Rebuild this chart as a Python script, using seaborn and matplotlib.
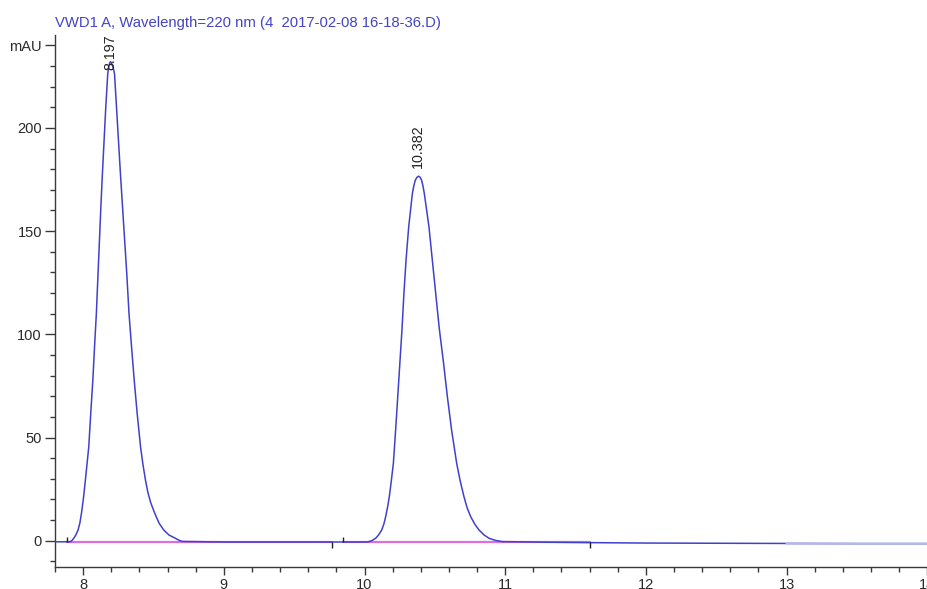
import matplotlib
matplotlib.use("Agg")
import matplotlib.pyplot as plt
from matplotlib.ticker import MultipleLocator
import pandas as pd
import seaborn as sns

# Detector trace (retention time in min, absorbance in mAU)
time_min = [7.80, 7.886, 7.910, 7.920, 7.933, 7.948, 7.964, 7.977, 7.988, 8.002,
            8.016, 8.028, 8.040, 8.054, 8.069, 8.081, 8.094, 8.106, 8.116, 8.126,
            8.137, 8.149, 8.161, 8.175, 8.180, 8.185, 8.190, 8.194, 8.199, 8.205,
            8.214, 8.223, 8.237, 8.251, 8.265, 8.280, 8.295, 8.310, 8.326, 8.344,
            8.363, 8.384, 8.408, 8.425, 8.443, 8.460, 8.480, 8.509, 8.540, 8.573,
            8.610, 8.656, 8.680, 8.704, 9.00, 9.50, 10.020, 10.050, 10.079, 10.100,
            10.122, 10.137, 10.150, 10.163, 10.176, 10.190, 10.205, 10.221, 10.236,
            10.251, 10.266, 10.280, 10.295, 10.314, 10.340, 10.350, 10.360, 10.372,
            10.383, 10.394, 10.405, 10.415, 10.425, 10.458, 10.482, 10.506, 10.531,
            10.562, 10.589, 10.619, 10.655, 10.680, 10.707, 10.730, 10.755, 10.785,
            10.814, 10.850, 10.885, 10.930, 10.980, 11.30, 11.60, 12.00, 12.50,
            13.00, 13.50, 14.00]
signal_mau = [-0.5, -0.5, -0.4, 0.1, 1.2, 2.8, 5.2, 8.7, 13.3, 20.5,
              29.4, 37.5, 45.5, 61.7, 77.8, 94.0, 110.1, 129.5, 145.6, 161.7,
              177.9, 194.0, 210.2, 226.3, 228.8, 230.5, 231.6, 232.0, 231.8, 230.8,
              229.0, 226.3, 210.2, 194.0, 177.9, 161.7, 145.6, 129.5, 110.1, 94.0,
              77.8, 61.7, 45.5, 37.0, 29.4, 23.5, 18.5, 13.3, 8.5, 5.2,
              2.8, 1.2, 0.3, -0.3, -0.6, -0.6, -0.6, 0.0, 1.2, 2.8,
              5.2, 8.0, 11.6, 16.0, 21.3, 28.8, 37.5, 53.6, 69.7,
              85.9, 102.0, 119.8, 135.9, 152.1, 168.2, 171.8, 174.5, 176.0,
              176.6, 176.2, 174.8, 172.0, 168.2, 152.1, 135.9, 119.8, 103.0,
              85.9, 69.7, 53.6, 37.5, 29.0, 21.3, 15.8, 11.6, 7.9,
              5.2, 2.8, 1.2, 0.2, -0.4, -0.7, -0.9, -1.1, -1.2,
              -1.3, -1.4, -1.4]

# Integration baselines (start, end) and baseline level
baseline_segments = [(7.886, 9.77), (9.85, 11.60)]
baseline_level = -0.8
# Baseline event markers: time and direction (+1 up, -1 down)
event_times = [7.886, 9.77, 9.85, 11.60]
event_dirs = [1, -1, 1, -1]

# Peak annotations
peak_rt = [8.197, 10.382]
peak_height = [232.0, 176.6]

title = "VWD1 A, Wavelength=220 nm (4  2017-02-08 16-18-36.D)"

sns.set_theme(style="ticks")
plt.rcParams["font.family"] = ["Liberation Sans", "DejaVu Sans"]

W, H = 928, 589
fig = plt.figure(figsize=(W / 100, H / 100), dpi=100)
ax = fig.add_axes([55 / W, 1 - 567.3 / H, 873 / W, (567.3 - 35) / H])

xmin, xmax = 7.80, 14.005
ymin, ymax = -12.85, 245.0

trace_color = "#4040cc"
base_color = "#dd6ee0"
axis_color = "#3a3a3a"

df = pd.DataFrame({"time": time_min, "signal": signal_mau})
sns.lineplot(data=df, x="time", y="signal", ax=ax, color=trace_color,
             linewidth=1.1, estimator=None, sort=True, zorder=3)

for t0, t1 in baseline_segments:
    seg = pd.DataFrame({"time": [t0, t1], "level": [baseline_level, baseline_level]})
    sns.lineplot(data=seg, x="time", y="level", ax=ax, color=base_color,
                 linewidth=1.6, estimator=None, zorder=2)

tail = df[df["time"] >= 13.0]
sns.lineplot(data=tail, x="time", y="signal", ax=ax, color="#b3b8e8",
             linewidth=1.6, estimator=None, zorder=4)

for t, d in zip(event_times, event_dirs):
    ax.vlines(t, baseline_level, baseline_level + d * 2.5, color="#222222",
              linewidth=1.0, zorder=5)

# Retention-time labels, kept inside the plot area
label_len = 17.0
for rt, h in zip(peak_rt, peak_height):
    y0 = min(h + 4.0, ymax - label_len)
    ax.text(rt, y0, f"{rt:.3f}", rotation=90, ha="center", va="bottom",
            fontsize=10.3, color="#222222", zorder=6)

ax.set_xlim(xmin, xmax)
ax.set_ylim(ymin, ymax)

ax.set_xticks([8, 9, 10, 11, 12, 13, 14])
ax.set_xticklabels(["8", "9", "10", "11", "12", "13", "14"])
ax.xaxis.set_minor_locator(MultipleLocator(0.2))
ax.set_yticks([0, 50, 100, 150, 200, 240])
ax.set_yticklabels(["0", "50", "100", "150", "200", "mAU"])
ax.yaxis.set_minor_locator(MultipleLocator(10))

ax.tick_params(axis="both", which="major", width=1.0, color=axis_color,
               labelsize=10.5, labelcolor="#2a2a2a", direction="out")
ax.tick_params(axis="y", which="major", length=7.2, pad=2.2)
ax.tick_params(axis="x", which="major", length=5.8, pad=2.2)
ax.tick_params(axis="both", which="minor", length=3.6, width=1.0, color=axis_color,
               direction="out")
ax.set_xlabel("")
ax.set_ylabel("")

for side in ("top", "right"):
    ax.spines[side].set_visible(False)
for side in ("left", "bottom"):
    ax.spines[side].set_color(axis_color)
    ax.spines[side].set_linewidth(1.0)

fig.text(55 / W, 1 - 26.5 / H, title, ha="left", va="baseline",
         fontsize=10.7, color="#4444c4")

fig.savefig("out.png", dpi=100, facecolor="white")
